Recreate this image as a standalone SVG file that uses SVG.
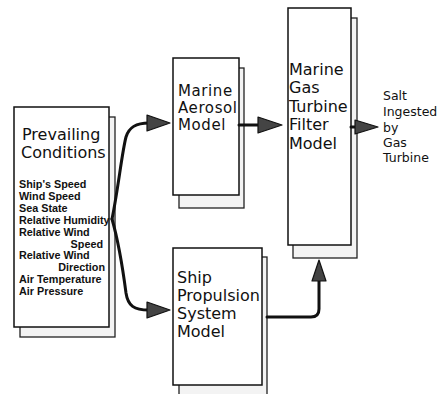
<svg xmlns="http://www.w3.org/2000/svg" width="442" height="394" viewBox="0 0 442 394">
  <defs>
    <style>
      .shadow { fill: #f3f3f3; stroke: #222; stroke-width: 1.3; }
      .box { fill: #ffffff; stroke: #111; stroke-width: 1.5; }
      .title { font-family: "DejaVu Sans", "Liberation Sans", sans-serif; font-size: 16px; fill: #111; }
      .tight { font-size: 15px; letter-spacing: 0.6px; }
      .small { font-family: "Liberation Sans", Arial, sans-serif; font-size: 10.8px; font-weight: bold; fill: #111; }
      .out { font-family: "DejaVu Sans", "Liberation Sans", sans-serif; font-size: 12.5px; fill: #111; }
      .wire { fill: none; stroke: #111; stroke-width: 3; stroke-linecap: round; stroke-linejoin: round; }
      .head { fill: #444; stroke: #111; stroke-width: 1.2; stroke-linejoin: round; }
    </style>
  </defs>

  <rect width="442" height="394" fill="#ffffff"/>

  <!-- Input conditions -->
  <g id="prevailing-conditions">
    <rect class="shadow" x="20" y="117" width="95" height="220"/>
    <rect class="box" x="14" y="107" width="95" height="220"/>
    <text class="title" x="22" y="140">Prevailing</text>
    <text class="title" x="21" y="158">Conditions</text>
    <text class="small" x="19" y="188">Ship's Speed</text>
    <text class="small" x="19" y="200">Wind Speed</text>
    <text class="small" x="19" y="212">Sea State</text>
    <text class="small" x="19" y="224">Relative Humidity</text>
    <text class="small" x="19" y="236">Relative Wind</text>
    <text class="small" x="103" y="248" text-anchor="end">Speed</text>
    <text class="small" x="19" y="259">Relative Wind</text>
    <text class="small" x="105" y="271" text-anchor="end">Direction</text>
    <text class="small" x="19" y="283">Air Temperature</text>
    <text class="small" x="19" y="295">Air Pressure</text>
  </g>

  <g id="marine-aerosol-model">
    <rect class="shadow" x="179" y="68" width="65" height="140"/>
    <rect class="box" x="173" y="58" width="66" height="137"/>
    <text class="title tight" x="178" y="96">Marine</text>
    <text class="title tight" x="178" y="113">Aerosol</text>
    <text class="title tight" x="178" y="130">Model</text>
  </g>

  <g id="ship-propulsion-model">
    <rect class="shadow" x="179" y="257" width="88" height="140"/>
    <rect class="box" x="173" y="248" width="89" height="137"/>
    <text class="title" x="177" y="283">Ship</text>
    <text class="title" x="177" y="301">Propulsion</text>
    <text class="title" x="177" y="319">System</text>
    <text class="title" x="177" y="337">Model</text>
  </g>

  <g id="gas-turbine-filter-model">
    <rect class="shadow" x="293" y="18" width="64" height="240"/>
    <rect class="box" x="288" y="8" width="63" height="237"/>
    <text class="title" x="289" y="75">Marine</text>
    <text class="title" x="289" y="93">Gas</text>
    <text class="title" x="289" y="112">Turbine</text>
    <text class="title" x="289" y="130">Filter</text>
    <text class="title" x="289" y="149">Model</text>
  </g>

  <g id="salt-output">
    <text class="out" x="383" y="100">Salt</text>
    <text class="out" x="383" y="116">Ingested</text>
    <text class="out" x="383" y="132">by</text>
    <text class="out" x="383" y="147">Gas</text>
    <text class="out" x="383" y="162">Turbine</text>
  </g>

  <!-- Connectors -->
  <g id="connectors">
    <path class="wire" d="M112,219 C118,190 122,152 126,137 C129,127 136,123 149,123"/>
    <path class="wire" d="M112,219 C118,240 123,270 126,293 C128,306 134,310 149,310"/>
    <path class="head" d="M147,115 L170,123 L147,131 Z"/>
    <path class="head" d="M147,302 L170,310 L147,318 Z"/>

    <path class="wire" d="M239,125 L260,125"/>
    <path class="head" d="M258,117 L282,125 L258,133 Z"/>

    <path class="wire" d="M351,127 L357,127"/>
    <path class="head" d="M355,120 L378,127 L355,134 Z"/>

    <path class="wire" d="M267,317 L311,317 Q319,317 319,309 L319,279"/>
    <path class="head" d="M312,281 L319,260 L326,281 Z"/>
  </g>
</svg>
